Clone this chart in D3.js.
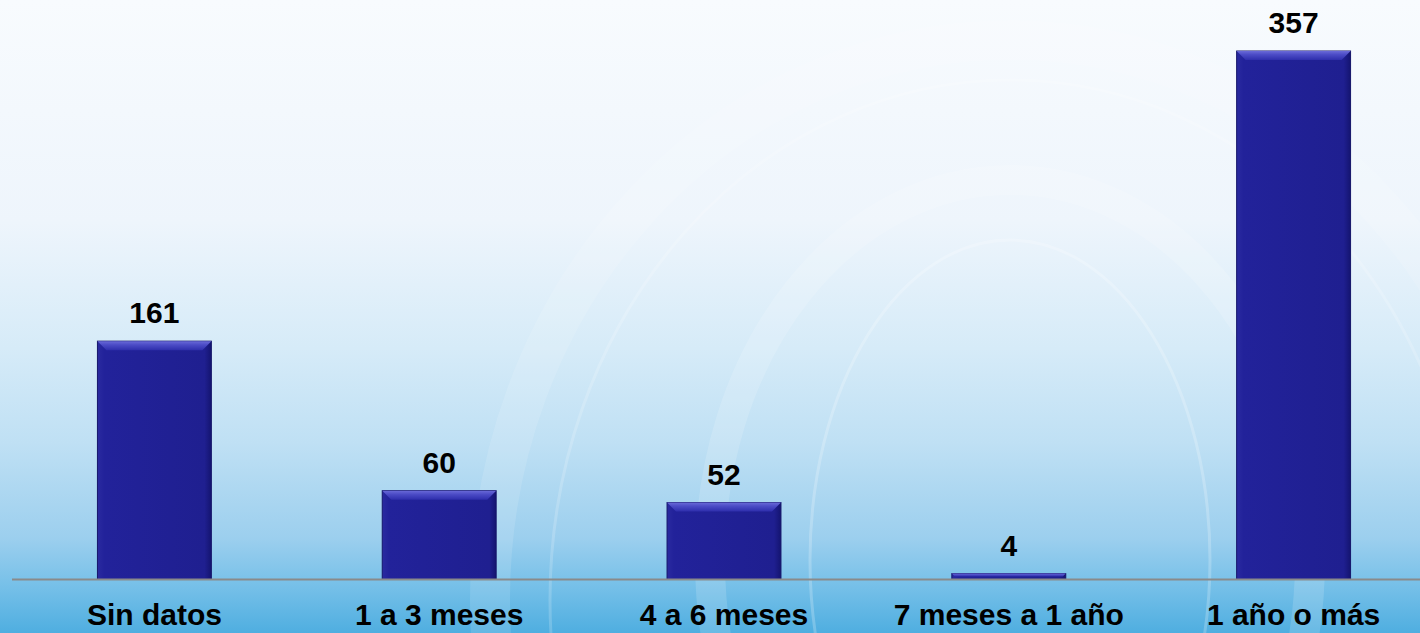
<!DOCTYPE html>
<html><head><meta charset="utf-8">
<script src="https://cdn.jsdelivr.net/npm/d3@7"></script>
<style>html,body{margin:0;padding:0;overflow:hidden;}svg{display:block;}</style>
</head><body>
<script>
const categories = ["Sin datos", "1 a 3 meses", "4 a 6 meses", "7 meses a 1 año", "1 año o más"];
const values = [161, 60, 52, 4, 357];

const W = 1420, H = 633;
const svg = d3.select("body").append("svg").attr("width", W).attr("height", H);
const defs = svg.append("defs");

const bg = defs.append("linearGradient").attr("id","bg").attr("x1",0).attr("y1",0).attr("x2",0).attr("y2",1);
[[0,"#f8fbfe"],[0.35,"#eef5fc"],[0.55,"#d6ebf8"],[0.7,"#bfe0f4"],[0.85,"#9ccfee"],[0.93,"#74bfe8"],[1,"#4faee0"]]
  .forEach(([o,c])=>bg.append("stop").attr("offset",o).attr("stop-color",c));
svg.append("rect").attr("width",W).attr("height",H).attr("fill","url(#bg)");

// faint decorative rings
const deco = svg.append("g").attr("fill","none").attr("stroke","#ffffff");
deco.append("ellipse").attr("cx",1010).attr("cy",560).attr("rx",200).attr("ry",320).attr("stroke-opacity",0.22).attr("stroke-width",3);
deco.append("ellipse").attr("cx",1010).attr("cy",560).attr("rx",300).attr("ry",380).attr("stroke-opacity",0.15).attr("stroke-width",30);
deco.append("ellipse").attr("cx",1010).attr("cy",600).attr("rx",460).attr("ry",520).attr("stroke-opacity",0.18).attr("stroke-width",3);
deco.append("ellipse").attr("cx",1010).attr("cy",600).attr("rx",520).attr("ry",560).attr("stroke-opacity",0.12).attr("stroke-width",40);

const x = d3.scaleBand().domain(categories).range([12, 1436]).paddingInner(0.6).paddingOuter(0.3);
const y = d3.scaleLinear().domain([0, 357]).range([579.5, 51]);

const sideG = defs.append("linearGradient").attr("id","side").attr("x1",0).attr("y1",0).attr("x2",1).attr("y2",0);
[[0,"#2a2aa0"],[0.06,"#22229a"],[0.94,"#1f1f90"],[1,"#141470"]].forEach(([o,c])=>sideG.append("stop").attr("offset",o).attr("stop-color",c));
const topG = defs.append("linearGradient").attr("id","topb").attr("x1",0).attr("y1",0).attr("x2",0).attr("y2",1);
[[0,"#6a6ad8"],[0.4,"#4c4cc6"],[1,"#2e2eac"]].forEach(([o,c])=>topG.append("stop").attr("offset",o).attr("stop-color",c));

const bars = svg.append("g").selectAll("g").data(categories).join("g");
bars.append("rect")
  .attr("x", d=>x(d)).attr("y", (d,i)=>y(values[i]))
  .attr("width", x.bandwidth()).attr("height", (d,i)=>y(0)-y(values[i]))
  .attr("fill","url(#side)").attr("stroke","#15156a").attr("stroke-width",1);
bars.append("path").attr("d",(d,i)=>{
  const x0=x(d), x1=x0+x.bandwidth(), t=y(values[i]), h=y(0)-t;
  const b=Math.min(9, h/2);
  return `M${x0},${t}L${x1},${t}L${x1-b},${t+b}L${x0+b},${t+b}Z`;
}).attr("fill","url(#topb)");

svg.append("line").attr("x1",12).attr("x2",W).attr("y1",579.5).attr("y2",579.5)
  .attr("stroke","#8a8a8a").attr("stroke-width",2);

svg.append("g").selectAll("text").data(categories).join("text")
  .attr("x", d=>x(d)+x.bandwidth()/2).attr("y",(d,i)=>y(values[i])-18)
  .attr("text-anchor","middle")
  .attr("font-family","Liberation Sans, Arial, sans-serif").attr("font-weight","bold")
  .attr("font-size",30).attr("fill","#000")
  .text((d,i)=>values[i]);

svg.append("g").selectAll("text").data(categories).join("text")
  .attr("x", d=>x(d)+x.bandwidth()/2).attr("y",625)
  .attr("text-anchor","middle")
  .attr("font-family","Liberation Sans, Arial, sans-serif").attr("font-weight","bold")
  .attr("font-size",30).attr("fill","#000")
  .text(d=>d);
</script>
</body></html>
